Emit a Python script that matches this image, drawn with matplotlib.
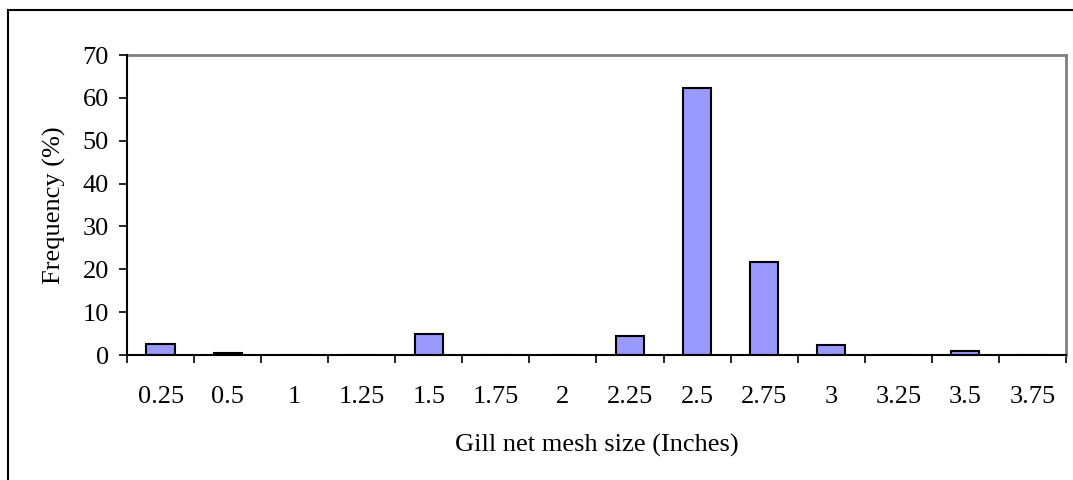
import matplotlib.pyplot as plt
from matplotlib.patches import Rectangle
import numpy as np

# Catch by gill net mesh size
mesh_sizes = ["0.25", "0.5", "1", "1.25", "1.5", "1.75", "2", "2.25",
              "2.5", "2.75", "3", "3.25", "3.5", "3.75"]
frequency = [2.5, 0.4, 0, 0, 5.0, 0, 0, 4.5, 62.4, 21.8, 2.4, 0, 0.9, 0]

plt.rcParams["font.family"] = ["Liberation Serif", "DejaVu Serif"]

fig = plt.figure(figsize=(10.73, 4.8), dpi=100)
ax = fig.add_axes([0.1184, 0.2604, 0.875, 0.625])

# Border around the chart area
fig.patches.append(Rectangle((8 / 1073, -0.1), 1.2, (480 - 10) / 480 + 0.1,
                             transform=fig.transFigure, fill=False,
                             edgecolor="black", lw=1.5))

x = np.arange(len(mesh_sizes)) + 0.5
ax.bar(x, frequency, width=0.42, color="#9999ff", edgecolor="black", lw=1.5, zorder=3)

ax.set_xlim(0, len(mesh_sizes))
ax.set_ylim(0, 70)
ax.set_yticks(np.arange(0, 71, 10))

# Ticks at category boundaries, labels centred under each bar
ax.set_xticks(np.arange(len(mesh_sizes) + 1))
ax.set_xticklabels([])
ax.set_xticks(x, minor=True)
ax.set_xticklabels(mesh_sizes, minor=True)
ax.tick_params(axis="x", which="major", direction="out", length=6, width=1.2)
ax.tick_params(axis="x", which="minor", length=0, pad=22, labelsize=19)
ax.tick_params(axis="y", direction="out", length=6, width=1.2, pad=7, labelsize=19)

for side in ["top", "right"]:
    ax.spines[side].set_color("#808080")
    ax.spines[side].set_linewidth(2)
for side in ["left", "bottom"]:
    ax.spines[side].set_color("black")
    ax.spines[side].set_linewidth(1.5)
    ax.spines[side].set_zorder(4)

ax.set_ylabel("Frequency (%)", fontsize=19, labelpad=12)
ax.set_xlabel("Gill net mesh size (Inches)", fontsize=19, labelpad=19)

fig.savefig("out.png", dpi=100)
